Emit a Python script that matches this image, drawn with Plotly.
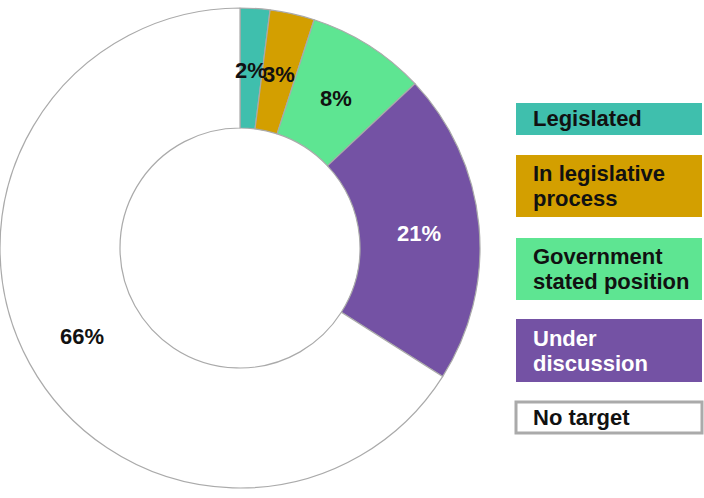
import math
import plotly.graph_objects as go

categories = ["Legislated", "In legislative process", "Government stated position", "Under discussion", "No target"]
legend_text = ["Legislated", "In legislative<br>process", "Government<br>stated position", "Under<br>discussion", "No target"]
values = [2, 3, 8, 21, 66]
colors = ["#3FBFAD", "#D39F00", "#5EE592", "#7452A4", "#FFFFFF"]
line_colors = ["#3FBFAD", "#D39F00", "#5EE592", "#7452A4", "#AAAAAA"]
text_colors = ["#111111", "#111111", "#111111", "#FFFFFF", "#111111"]
legend_text_colors = ["#111111", "#111111", "#111111", "#FFFFFF", "#111111"]

W, H = 704, 498
cx, cy, R = 240, 250, 240
hole = 0.5
FONT = "Liberation Sans, Arial"

fig = go.Figure(go.Pie(
    labels=categories, values=values, sort=False, direction="clockwise",
    rotation=0, hole=hole,
    marker=dict(colors=colors, line=dict(color="#AAAAAA", width=1.2)),
    textinfo="none", hoverinfo="label+percent", showlegend=False,
    domain=dict(x=[0, 480 / W], y=[(cy - 246) / H, (cy + 246) / H]),
))

annotations = []
total = sum(values)
cum = 0
label_r = 180
for v, tc in zip(values, text_colors):
    mid = (cum + v / 2) / total * 2 * math.pi
    cum += v
    x = cx + label_r * math.sin(mid)
    y = cy - label_r * math.cos(mid)
    annotations.append(dict(
        x=x / W, y=1 - y / H, xref="paper", yref="paper", showarrow=False,
        xanchor="center", yanchor="middle",
        text=f"<b>{round(v / total * 100)}%</b>",
        font=dict(family=FONT, size=22, color=tc),
    ))

# custom legend boxes
boxes = [(103, 135), (155, 217), (238, 300), (319, 382), (402, 433)]
line_gap = 25
shapes = []
for (y0, y1), fc, lc, txt, tcol in zip(boxes, colors, line_colors, legend_text, legend_text_colors):
    shapes.append(dict(
        type="rect", xref="paper", yref="paper",
        x0=516 / W, x1=702 / W, y0=1 - y1 / H, y1=1 - y0 / H,
        fillcolor=fc, line=dict(color=lc, width=3 if fc == "#FFFFFF" else 0),
    ))
    lines = txt.split("<br>")
    yc = (y0 + y1) / 2
    for i, ln in enumerate(lines):
        ly = yc + (i - (len(lines) - 1) / 2) * line_gap
        annotations.append(dict(
            x=531 / W, y=1 - ly / H, xref="paper", yref="paper",
            xanchor="left", yanchor="middle", align="left", showarrow=False,
            text=f"<b>{ln}</b>",
            font=dict(family=FONT, size=22, color=tcol),
        ))

fig.update_layout(
    width=W, height=H, margin=dict(l=0, r=0, t=0, b=0),
    paper_bgcolor="white", plot_bgcolor="white",
    annotations=annotations, shapes=shapes,
)
fig.write_html("out.html")
